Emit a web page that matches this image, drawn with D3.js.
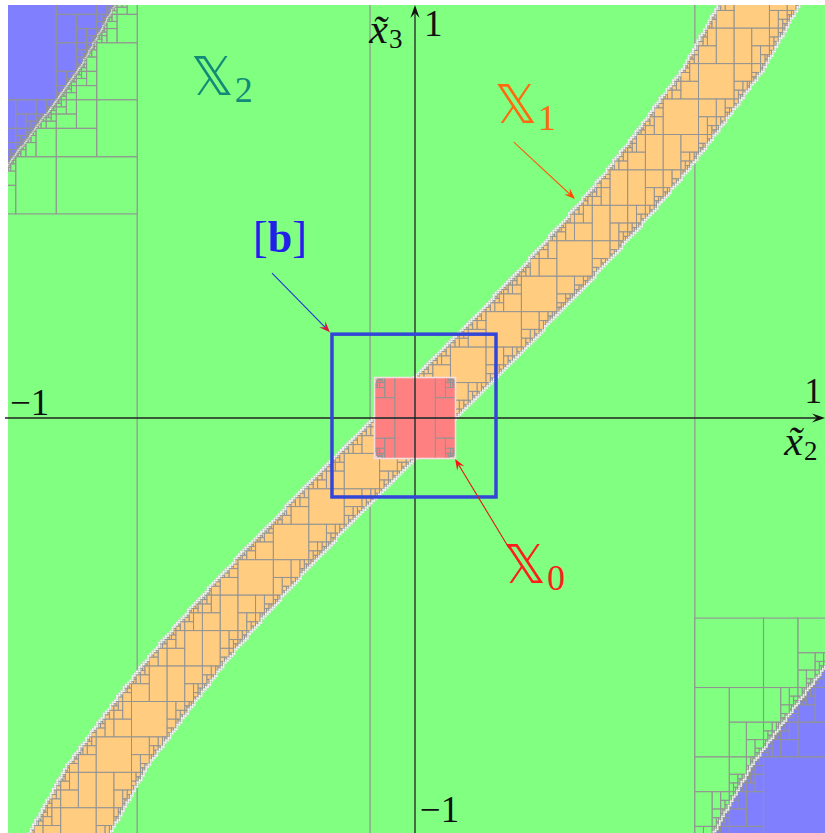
<!DOCTYPE html>
<html>
<head>
<meta charset="utf-8">
<script src="https://cdn.jsdelivr.net/npm/d3@7"></script>
<style>
  html, body { margin: 0; padding: 0; background: #ffffff; }
  svg { display: block; }
</style>
</head>
<body>
<svg id="chart" width="825" height="833"></svg>
<script>
// ---- data -------------------------------------------------------------
// Centre line of the band X1: x̃2 as a function of x̃3
const curveX3 = [-1.03, -0.86, -0.70, -0.60, -0.50, -0.40, -0.30, -0.20, -0.10, 0,
                 0.10, 0.20, 0.30, 0.40, 0.50, 0.60, 0.70, 0.86, 1.03];
const curveX2 = [-0.855, -0.760, -0.642, -0.565, -0.480, -0.390, -0.296, -0.199, -0.100, 0,
                 0.100, 0.199, 0.296, 0.390, 0.480, 0.565, 0.642, 0.760, 0.855];
const bandHalfWidth = 0.1;     // X1 : |x̃2 - c(x̃3)| <= 0.1
const outerOffset = 1.59;      // X2 : |x̃2 - c(x̃3)| <= 1.59

// displayed window
const viewX2 = [-1.005, 1.03];
const viewX3 = [-1.035, 1.02];

// coarse cuts of the X2 paving and the two boxes paved around its border
const coarseCutsX2 = [-0.686, -0.111, 0.691];
const cornerBoxesX2 = [[-1.086, -0.686], [0.691, 1.03]];
const cornerBoxesX3 = [[0.504, 1.067], [-1.18, -0.494]];

// initial box of the X1 paving
const bandBoxX2 = [-1.4, 1.4];
const bandBoxX3 = [-1.4, 1.4];

// X0 and the box [b]
const x0BoxX2 = [-0.1, 0.1];
const x0BoxX3 = [-0.1, 0.1];
const x0CornerRadius = 0.014;
const bBoxX2 = [-0.205, 0.2];
const bBoxX3 = [-0.195, 0.207];

const epsilon = 0.006;

const axisEndLabels = ["\u22121", "1", "\u22121", "1"];  // x̃2 min, x̃2 max, x̃3 min, x̃3 max
const axisNames = ["x\u0303", "2", "x\u0303", "3"];
const setNames = [["\uD835\uDD4F", "0"], ["\uD835\uDD4F", "1"], ["\uD835\uDD4F", "2"]];

// ---- scales -----------------------------------------------------------
const W = 825, H = 833;
const sx = d3.scaleLinear().domain([-1, 1]).range([10, 820]);
const sy = d3.scaleLinear().domain([-1, 1]).range([823, 13]);

const COL = {
  green: "#80ff80", orange: "#ffcc80", red: "#ff8080", blue: "#8080ff",
  bnd: "#f6f6f6", edge: "#939393"
};

const svg = d3.select("#chart");

// centre line lookup (piecewise linear through the read points)
const centre = d3.scaleLinear().domain(curveX3).range(curveX2).clamp(false);

const IN = 1, OUT = 0, UNK = 2;

function bandTest(b, h) {
  const lo = b.x[0] - centre(b.y[1]);
  const hi = b.x[1] - centre(b.y[0]);
  if (lo >= -h && hi <= h) return IN;
  if (hi < -h || lo > h) return OUT;
  return UNK;
}

function x0Test(b) {
  const a = 0.1 - x0CornerRadius;
  const maxAx = Math.max(Math.abs(b.x[0]), Math.abs(b.x[1]));
  const maxAy = Math.max(Math.abs(b.y[0]), Math.abs(b.y[1]));
  const minAx = (b.x[0] <= 0 && b.x[1] >= 0) ? 0 : Math.min(Math.abs(b.x[0]), Math.abs(b.x[1]));
  const minAy = (b.y[0] <= 0 && b.y[1] >= 0) ? 0 : Math.min(Math.abs(b.y[0]), Math.abs(b.y[1]));
  const d = (px, py) => Math.hypot(Math.max(px - a, 0), Math.max(py - a, 0));
  if (d(maxAx, maxAy) <= x0CornerRadius + 1e-12) return IN;
  if (d(minAx, minAy) > x0CornerRadius + 1e-12) return OUT;
  return UNK;
}

function intersectsView(b) {
  return b.x[1] > viewX2[0] && b.x[0] < viewX2[1] && b.y[1] > viewX3[0] && b.y[0] < viewX3[1];
}

// set inversion by bisection, dimensions taken in turn
function sivia(box, test, firstDim, out) {
  const stack = [{ b: box, depth: 0 }];
  while (stack.length) {
    const { b, depth } = stack.pop();
    if (!intersectsView(b)) continue;
    const r = test(b);
    if (r !== UNK) { out.push({ b, kind: r === IN ? "in" : "out" }); continue; }
    const wx = b.x[1] - b.x[0], wy = b.y[1] - b.y[0];
    if (Math.max(wx, wy) < epsilon) { out.push({ b, kind: "bnd" }); continue; }
    const dim = (depth + firstDim) % 2 === 0 ? "x" : "y";
    const m = (b[dim][0] + b[dim][1]) / 2;
    const b1 = { x: b.x.slice(), y: b.y.slice() };
    const b2 = { x: b.x.slice(), y: b.y.slice() };
    b1[dim][1] = m; b2[dim][0] = m;
    stack.push({ b: b1, depth: depth + 1 }, { b: b2, depth: depth + 1 });
  }
  return out;
}

// ---- layers -----------------------------------------------------------
const defs = svg.append("defs");
defs.append("clipPath").attr("id", "view")
  .append("rect")
  .attr("x", sx(viewX2[0])).attr("y", sy(viewX3[1]))
  .attr("width", W - sx(viewX2[0])).attr("height", H - sy(viewX3[1]));

const plot = svg.append("g").attr("clip-path", "url(#view)");

// X2 background
plot.append("rect")
  .attr("x", sx(viewX2[0])).attr("y", sy(viewX3[1]))
  .attr("width", sx(viewX2[1]) - sx(viewX2[0]))
  .attr("height", sy(viewX3[0]) - sy(viewX3[1]))
  .attr("fill", COL.green);

// coarse cuts of the X2 paving
plot.append("g").selectAll("line").data(coarseCutsX2).join("line")
  .attr("x1", d => sx(d)).attr("x2", d => sx(d))
  .attr("y1", sy(viewX3[1])).attr("y2", sy(viewX3[0]))
  .attr("stroke", COL.edge).attr("stroke-width", 1.2);

function drawBoxes(g, boxes, fills, strokeW) {
  g.selectAll("rect").data(boxes).join("rect")
    .attr("x", d => sx(d.b.x[0]))
    .attr("y", d => sy(d.b.y[1]))
    .attr("width", d => sx(d.b.x[1]) - sx(d.b.x[0]))
    .attr("height", d => sy(d.b.y[0]) - sy(d.b.y[1]))
    .attr("fill", d => fills[d.kind])
    .attr("stroke", d => d.kind === "bnd" ? "#c4c4c4" : COL.edge)
    .attr("stroke-width", d => d.kind === "bnd" ? 0.3 : strokeW);
}

// X2 paving near its border (corners)
const outerBoxes = [];
cornerBoxesX2.forEach((bx, i) => {
  sivia({ x: bx.slice(), y: cornerBoxesX3[i].slice() }, b => bandTest(b, outerOffset), 1, outerBoxes);
});
drawBoxes(plot.append("g"), outerBoxes, { in: COL.green, out: COL.blue, bnd: COL.bnd }, 1.1);

// X1 paving (only inner and border boxes are drawn)
const bandBoxes = sivia({ x: bandBoxX2.slice(), y: bandBoxX3.slice() }, b => bandTest(b, bandHalfWidth), 0, [])
  .filter(d => d.kind !== "out");
drawBoxes(plot.append("g"), bandBoxes, { in: COL.orange, bnd: COL.bnd }, 1.0);

// X0 paving
const x0Boxes = sivia({ x: x0BoxX2.slice(), y: x0BoxX3.slice() }, x0Test, 0, [])
  .filter(d => d.kind !== "out");
drawBoxes(plot.append("g"), x0Boxes, { in: COL.red, bnd: "#f3d6d6" }, 1.0);
plot.append("rect")
  .attr("x", sx(x0BoxX2[0])).attr("y", sy(x0BoxX3[1]))
  .attr("width", sx(x0BoxX2[1]) - sx(x0BoxX2[0]))
  .attr("height", sy(x0BoxX3[0]) - sy(x0BoxX3[1]))
  .attr("fill", "none").attr("stroke", "#f4dede").attr("stroke-width", 1.6);

// ---- axes -------------------------------------------------------------
function stealth(g, x1, y1, x2, y2, color, lineColor, L, Wd, sw) {
  const dx = x2 - x1, dy = y2 - y1, len = Math.hypot(dx, dy);
  const ux = dx / len, uy = dy / len, nx = -uy, ny = ux;
  const notch = 0.62 * L;
  g.append("line")
    .attr("x1", x1).attr("y1", y1)
    .attr("x2", x2 - ux * notch).attr("y2", y2 - uy * notch)
    .attr("stroke", lineColor).attr("stroke-width", sw);
  const p = [
    [x2, y2],
    [x2 - ux * L + nx * Wd, y2 - uy * L + ny * Wd],
    [x2 - ux * notch, y2 - uy * notch],
    [x2 - ux * L - nx * Wd, y2 - uy * L - ny * Wd]
  ];
  g.append("path").attr("d", "M" + p.map(q => q.join(",")).join("L") + "Z").attr("fill", color);
}

const axes = svg.append("g");
stealth(axes, 5, sy(0), W, sy(0), "#111", "#222", 13, 4.6, 1.3);
stealth(axes, sx(0), H, sx(0), 5, "#111", "#222", 13, 4.6, 1.3);

// [b]
svg.append("rect")
  .attr("x", sx(bBoxX2[0])).attr("y", sy(bBoxX3[1]))
  .attr("width", sx(bBoxX2[1]) - sx(bBoxX2[0]))
  .attr("height", sy(bBoxX3[0]) - sy(bBoxX3[1]))
  .attr("fill", "none").attr("stroke", "#3346d8").attr("stroke-width", 3.5);

// ---- text -------------------------------------------------------------
const serif = "'Liberation Serif', 'DejaVu Serif', serif";
const txt = svg.append("g");

function label(x, y, s, size, color) {
  return txt.append("text").attr("x", x).attr("y", y)
    .attr("font-family", serif).attr("font-size", size)
    .attr("fill", color).text(s);
}

// axis end values
label(sx(-1.0), sy(0.007), axisEndLabels[0], 37, "#111");
label(sx(0.962), sy(0.037), axisEndLabels[1], 35, "#111");
label(sx(0.012), sy(-0.998), axisEndLabels[2], 37, "#111");
label(sx(0.022), sy(0.943), axisEndLabels[3], 37, "#111");

// axis names x̃2, x̃3
function axisName(x, y, base, sub) {
  const t = txt.append("text").attr("x", x).attr("y", y)
    .attr("font-family", serif).attr("fill", "#111");
  t.append("tspan").attr("font-size", 42).attr("font-style", "italic").text(base);
  t.append("tspan").attr("font-size", 27).attr("dy", 5).attr("dx", 1).text(sub);
}
axisName(sx(0.912), sy(-0.091), axisNames[0], axisNames[1]);
axisName(sx(-0.113), sy(0.926), axisNames[2], axisNames[3]);

// set names
function setName(x, y, pair, color) {
  const t = txt.append("text").attr("x", x).attr("y", y).attr("fill", color);
  t.append("tspan").attr("font-family", "'DejaVu Sans', 'DejaVu Serif', sans-serif")
    .attr("font-size", 53).text(pair[0]);
  t.append("tspan").attr("font-family", serif).attr("font-size", 36)
    .attr("dy", 7).attr("dx", 1).text(pair[1]);
}
setName(sx(-0.553), sy(0.798), setNames[2], "#128a78");
setName(sx(0.196), sy(0.728), setNames[1], "#ff6a10");
setName(sx(0.218), sy(-0.407), setNames[0], "#ff1c1c");

// [b]
const bt = txt.append("text").attr("x", sx(-0.40)).attr("y", sy(0.41))
  .attr("font-family", serif).attr("font-size", 44).attr("fill", "#2020e8");
bt.append("tspan").text("[");
bt.append("tspan").attr("font-weight", "bold").text("b");
bt.append("tspan").text("]");

// pointers
const ann = svg.append("g");
stealth(ann, sx(0.244), sy(0.681), sx(0.395), sy(0.541), "#ff4a00", "#ff5a10", 11, 4.2, 1.1);
stealth(ann, sx(-0.353), sy(0.358), sx(-0.21), sy(0.212), "#e01040", "#2236d8", 11, 4.2, 1.1);
stealth(ann, sx(0.232), sy(-0.321), sx(0.099), sy(-0.101), "#ff1010", "#e01818", 11, 4.2, 1.1);
</script>
</body>
</html>
